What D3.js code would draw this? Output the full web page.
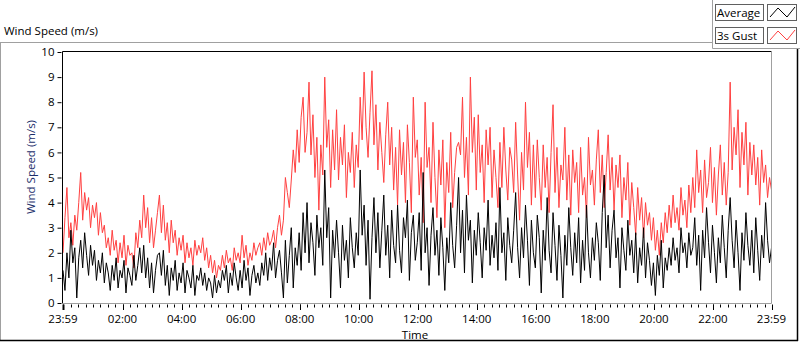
<!DOCTYPE html>
<html>
<head>
<meta charset="utf-8">
<script src="https://cdn.jsdelivr.net/npm/d3@7"></script>
<style>
  html, body { margin: 0; padding: 0; background: #fff; }
  svg { display: block; font-family: 'Open Sans', 'Noto Sans', sans-serif; }
</style>
</head>
<body>
<svg id="chart" width="800" height="342"></svg>
<script>
// Wind speed logged every 4 minutes, 23:59 -> 23:59 next day (m/s)
const gust = [
  2.0, 3.4, 4.6, 2.6, 3.2, 2.3, 3.5, 2.9, 4.0, 5.2,
  3.3, 4.4, 3.7, 4.2, 3.0, 3.9, 3.4, 4.0, 2.7, 3.6,
  2.8, 3.1, 2.2, 2.6, 1.9, 2.9, 2.1, 2.5, 1.6, 2.4,
  1.8, 2.7, 1.5, 2.3, 1.9, 2.0, 1.4, 2.8, 2.2, 3.3,
  2.6, 4.3, 3.0, 3.8, 2.4, 3.4, 2.2, 2.9, 3.6, 4.3,
  2.8, 3.9, 2.5, 3.2, 2.0, 3.3, 2.4, 2.9, 1.9, 2.6,
  2.1, 2.7, 1.6, 2.4, 1.8, 2.2, 1.5, 2.5, 1.9, 2.3,
  2.0, 2.6, 1.7, 2.2, 1.4, 1.9, 1.2, 1.7, 1.0, 1.5,
  1.3, 1.9, 1.4, 2.1, 1.6, 1.8, 1.3, 2.2, 1.7, 2.0,
  1.6, 2.7, 1.8, 2.3, 1.5, 2.0, 1.7, 2.4, 1.9, 2.2,
  2.4, 1.9, 2.6, 2.1, 2.8, 2.3, 2.5, 2.9, 2.2, 3.0,
  3.5, 2.7, 3.3, 5.0, 4.4, 3.8, 4.9, 6.1, 5.2, 6.9,
  5.6, 7.4, 8.2, 6.0, 6.8, 8.8, 5.9, 7.5, 5.0, 6.6,
  3.7, 6.3, 5.1, 9.0, 6.2, 7.3, 4.6, 6.9, 5.3, 7.7,
  4.9, 6.6, 5.5, 7.1, 4.2, 6.0, 5.2, 6.8, 4.6, 6.3,
  5.4, 8.2, 6.5, 9.2, 7.0, 5.8, 7.6, 9.25, 6.3, 7.9,
  5.3, 7.2, 6.0, 4.8, 6.7, 8.0, 5.5, 7.0, 4.5, 6.2,
  3.9, 6.9, 5.1, 6.4, 4.0, 7.1, 5.6, 3.6, 8.2, 5.8,
  6.5, 4.3, 5.8, 3.2, 8.0, 5.4, 6.2, 4.0, 7.2, 5.0,
  3.4, 6.1, 4.7, 6.5, 3.0, 5.6, 4.4, 6.8, 3.8, 5.2,
  6.2, 6.4, 5.9, 8.2, 5.0, 6.6, 4.3, 9.0, 6.0, 7.4,
  4.5, 7.5, 5.2, 6.3, 4.0, 6.9, 5.5, 7.0, 4.2, 6.1,
  5.0, 3.8, 6.4, 4.6, 7.0, 5.3, 4.1, 6.2, 5.7, 4.4,
  7.2, 5.1, 3.3, 6.0, 4.5, 8.0, 5.4, 6.8, 3.9, 6.3,
  4.2, 6.5, 5.0, 3.7, 6.3, 4.6, 5.8, 3.6, 6.0, 7.9,
  4.4, 6.2, 3.8, 5.5, 4.9, 7.0, 4.1, 5.9, 3.5, 6.1,
  4.8, 5.6, 3.6, 6.2, 4.3, 5.0, 3.4, 6.6, 4.7, 5.3,
  3.9, 5.7, 6.9, 4.4, 5.9, 3.8, 5.2, 6.7, 4.5, 5.8,
  3.7, 5.5, 4.6, 5.9, 3.4, 5.0, 4.1, 5.6, 3.1, 4.8,
  3.8, 2.7, 4.6, 3.3, 4.2, 2.6, 4.0, 3.1, 3.6, 2.5,
  3.4, 2.1, 2.9, 1.9, 3.2, 2.4, 3.6, 2.8, 3.9, 3.0,
  4.3, 3.2, 3.8, 2.9, 4.6, 3.5, 4.1, 3.0, 4.7, 3.6,
  5.0, 3.8, 6.1, 4.4, 5.3, 3.6, 5.7, 4.2, 4.8, 6.2,
  4.0, 5.4, 3.5, 5.1, 6.3, 4.3, 5.6, 3.9, 5.2, 8.8,
  5.3, 7.0, 5.9, 7.7, 4.6, 6.8, 5.5, 7.2, 4.3, 6.4,
  5.1, 6.3, 4.7, 5.8, 3.9, 6.1, 4.8, 5.5, 4.2, 5.0, 4.5
];

const average = [
  1.3, 0.5, 2.0, 1.0, 2.9, 1.6, 2.2, 0.2, 1.8, 2.5,
  1.4, 2.8, 1.9, 1.1, 2.3, 1.5, 2.1, 0.9, 1.7, 1.2,
  2.0, 0.8, 1.6, 1.2, 0.5, 1.5, 0.9, 1.8, 0.6, 1.3,
  1.0, 1.7, 0.4, 1.4, 1.1, 0.7, 1.9, 0.9, 1.5, 2.2,
  1.2, 2.3, 1.0, 1.8, 0.6, 1.6, 0.4, 1.3, 1.9, 2.0,
  1.1, 2.1, 0.7, 1.5, 0.3, 1.4, 0.9, 1.7, 0.5, 1.2,
  0.8, 1.6, 0.4, 1.3, 1.0, 0.6, 1.5, 0.3, 1.1, 0.9,
  1.4, 0.7, 1.2, 0.5, 1.0, 0.8, 0.2, 1.1, 0.4, 0.9,
  0.6, 1.3, 0.9, 1.5, 0.4, 1.2, 0.7, 1.6, 1.0, 0.5,
  1.3, 0.6, 1.7, 0.9, 1.4, 0.3, 1.1, 1.5, 0.8, 1.2,
  0.7, 1.6, 1.1, 2.0, 0.9, 1.8, 1.3, 2.4, 1.0, 1.7,
  2.1, 1.2, 0.2, 2.5, 0.8, 1.9, 3.0, 0.6, 2.2, 1.5,
  2.8, 1.3, 3.6, 2.0, 4.0, 1.6, 3.2, 2.4, 1.1, 3.5,
  2.2, 3.0, 1.5, 5.3, 2.6, 3.8, 0.2, 2.9, 1.8, 3.3,
  2.0, 0.6, 3.1, 1.7, 2.5, 1.0, 3.4, 2.2, 1.4, 2.8,
  1.9, 5.3, 2.7, 3.9, 1.5, 3.3, 0.15, 2.6, 4.2, 2.0,
  3.6, 1.4, 2.9, 4.3, 1.9, 3.1, 1.0, 3.7, 2.3, 1.6,
  3.9, 2.1, 1.2, 3.4, 2.6, 4.1, 0.9, 2.8, 3.5, 1.7,
  2.4, 3.6, 1.3, 5.2, 2.0, 3.0, 0.7, 2.7, 3.8, 1.9,
  2.9, 1.1, 3.4, 2.2, 0.5, 2.6, 1.6, 4.0, 2.3, 1.4,
  3.1, 5.0, 2.0, 3.7, 1.2, 4.3, 2.5, 3.3, 0.8, 2.9,
  1.9, 3.6, 2.4, 1.0, 3.0, 2.1, 4.1, 1.5, 2.7, 1.8,
  3.2, 1.3, 4.6, 2.0, 2.8, 0.9, 3.4, 2.3, 1.6, 2.9,
  4.4, 2.2, 1.0, 3.0, 1.8, 3.9, 2.5, 0.7, 3.3, 2.0,
  1.4, 3.5, 2.6, 0.4, 2.9, 1.7, 4.2, 2.1, 1.2, 3.6,
  2.3, 0.9, 3.1, 1.9, 0.2, 2.7, 1.5, 3.8, 2.2, 1.1,
  2.8, 1.6, 3.4, 0.8, 2.5, 1.3, 3.9, 2.0, 1.0, 2.6,
  1.7, 3.2, 2.4, 0.9, 3.6, 5.1, 2.2, 3.5, 1.4, 2.9,
  3.7, 1.8, 2.6, 0.6, 3.0, 2.1, 1.3, 3.3, 1.9, 2.5,
  1.2, 2.8, 0.8, 2.2, 1.5, 3.0, 1.0, 2.4, 1.7, 0.7,
  1.6, 0.3, 1.9, 1.1, 2.5, 0.6, 1.8, 1.3, 2.2, 1.5,
  2.6, 1.7, 2.2, 1.2, 3.0, 2.0, 2.4, 1.4, 2.8, 1.9,
  2.2, 3.4, 1.5, 2.7, 0.5, 2.9, 1.8, 3.8, 2.4, 1.2,
  3.1, 2.0, 0.8, 2.6, 1.6, 3.5, 2.2, 1.0, 2.9, 4.2,
  2.5, 1.4, 3.3, 2.0, 0.5, 2.8, 1.7, 3.6, 2.3, 1.5,
  2.9, 1.2, 3.4, 2.1, 0.9, 2.7, 1.8, 4.0, 2.5, 1.6, 2.2
];

const startTime = new Date(2000, 0, 1, 23, 59);
const endTime = new Date(2000, 0, 2, 23, 59);
const sampleMinutes = 4;
const yTicks = [0, 1, 2, 3, 4, 5, 6, 7, 8, 9, 10];
const legendItems = [
  { name: 'Average', color: '#000000' },
  { name: '3s Gust', color: '#ff4040' }
];

const svg = d3.select('#chart');
const font = "'Open Sans', 'Noto Sans', sans-serif";
const fontSize = '11.5px';

// Plot box
const plot = { left: 62.5, top: 51.5, right: 771.5, bottom: 303.5 };

const x = d3.scaleTime()
  .domain([startTime, endTime])
  .range([plot.left + 0.5, plot.right]);

const y = d3.scaleLinear()
  .domain([0, 10])
  .range([plot.bottom - 0.5, plot.top + 0.5]);

const timeAt = i => new Date(startTime.getTime() + i * sampleMinutes * 60000);

// Outer panel frame
svg.append('line').attr('x1', 0).attr('x2', 712.5).attr('y1', 42.5).attr('y2', 42.5)
  .attr('stroke', '#a0a0a0');
svg.append('line').attr('x1', 0.5).attr('x2', 0.5).attr('y1', 42.5).attr('y2', 341)
  .attr('stroke', '#a0a0a0');
svg.append('line').attr('x1', 797.5).attr('x2', 797.5).attr('y1', 48.5).attr('y2', 341)
  .attr('stroke', '#000').attr('stroke-width', 1.5);
svg.append('line').attr('x1', 0).attr('x2', 798).attr('y1', 340.5).attr('y2', 340.5)
  .attr('stroke', '#000').attr('stroke-width', 1.5);

// Legend frame
svg.append('line').attr('x1', 712.5).attr('x2', 712.5).attr('y1', 0).attr('y2', 48.5)
  .attr('stroke', '#a0a0a0');
svg.append('line').attr('x1', 712.5).attr('x2', 800).attr('y1', 48.5).attr('y2', 48.5)
  .attr('stroke', '#a0a0a0');

// Panel caption
svg.append('text')
  .attr('x', 4)
  .attr('y', 35)
  .style('font-size', fontSize)
  .attr('fill', '#000')
  .text('Wind Speed (m/s)');

// Data lines (clipped to plot)
svg.append('clipPath').attr('id', 'clip')
  .append('rect')
  .attr('x', plot.left).attr('y', plot.top)
  .attr('width', plot.right - plot.left).attr('height', plot.bottom - plot.top);

const line = d3.line()
  .x((d, i) => x(timeAt(i)))
  .y(d => y(d));

const lines = svg.append('g').attr('clip-path', 'url(#clip)');
lines.append('path')
  .datum(gust)
  .attr('d', line)
  .attr('fill', 'none')
  .attr('stroke', legendItems[1].color)
  .attr('stroke-width', 1);
lines.append('path')
  .datum(average)
  .attr('d', line)
  .attr('fill', 'none')
  .attr('stroke', legendItems[0].color)
  .attr('stroke-width', 1);

// Plot border: dark top/left, grey bottom/right
svg.append('path')
  .attr('d', `M${plot.left},${plot.bottom}V${plot.top}H${plot.right}`)
  .attr('fill', 'none').attr('stroke', '#000');
svg.append('path')
  .attr('d', `M${plot.left},${plot.bottom}H${plot.right}V${plot.top}`)
  .attr('fill', 'none').attr('stroke', '#a0a0a0');

// Y axis
const yAxis = svg.append('g')
  .attr('transform', `translate(${plot.left - 1},0)`)
  .call(d3.axisLeft(y).tickValues(yTicks).tickSize(4).tickPadding(3).tickFormat(d3.format('d')));
yAxis.select('.domain').remove();
yAxis.selectAll('.tick line').attr('stroke', '#000');
yAxis.selectAll('.tick text')
  .attr('fill', '#000')
  .style('font-family', font)
  .style('font-size', fontSize);

svg.append('text')
  .attr('transform', 'translate(35,167) rotate(-90)')
  .attr('text-anchor', 'middle')
  .style('font-size', fontSize)
  .attr('fill', '#1c2f6b')
  .text('Wind Speed (m/s)');

// X axis: minor ticks every 15 minutes, labels every 2 hours plus both ends
const minorTicks = d3.timeMinute.every(15).range(startTime, endTime);
const majorTicks = [startTime].concat(d3.timeHour.every(2).range(new Date(2000, 0, 2, 1), endTime)).concat([endTime]);
const fmt = d3.timeFormat('%H:%M');

const xAxisG = svg.append('g').attr('transform', `translate(0,${plot.bottom + 0.5})`);
xAxisG.selectAll('line.minor')
  .data(minorTicks)
  .enter()
  .append('line')
  .attr('class', 'minor')
  .attr('x1', d => Math.round(x(d)) + 0.5)
  .attr('x2', d => Math.round(x(d)) + 0.5)
  .attr('y1', 0.5)
  .attr('y2', 3.5)
  .attr('stroke', '#000');

xAxisG.selectAll('line.major')
  .data(majorTicks)
  .enter()
  .append('line')
  .attr('class', 'major')
  .attr('x1', d => Math.round(x(d)) + 0.5)
  .attr('x2', d => Math.round(x(d)) + 0.5)
  .attr('y1', 0.5)
  .attr('y2', 6)
  .attr('stroke', '#000')
  .attr('stroke-width', (d, i) => i === 0 ? 2 : 1);

xAxisG.selectAll('text')
  .data(majorTicks)
  .enter()
  .append('text')
  .attr('x', d => x(d))
  .attr('y', 18.5)
  .attr('text-anchor', 'middle')
  .style('font-size', fontSize)
  .attr('fill', '#000')
  .text(d => fmt(d));

svg.append('text')
  .attr('x', 415)
  .attr('y', 338.5)
  .attr('text-anchor', 'middle')
  .style('font-size', fontSize)
  .attr('fill', '#000')
  .text('Time');

// Legend
const legend = svg.selectAll('.legend')
  .data(legendItems)
  .enter()
  .append('g')
  .attr('class', 'legend')
  .attr('transform', (d, i) => `translate(0,${i * 23})`);

legend.append('rect')
  .attr('x', 715.5).attr('y', 4.5)
  .attr('width', 48).attr('height', 16)
  .attr('fill', '#fff').attr('stroke', '#606060');

legend.append('text')
  .attr('x', 717)
  .attr('y', 17)
  .style('font-size', fontSize)
  .attr('fill', '#000')
  .text(d => d.name);

legend.append('rect')
  .attr('x', 767.5).attr('y', 4.5)
  .attr('width', 29).attr('height', 16)
  .attr('fill', '#fff').attr('stroke', '#606060');

legend.append('path')
  .attr('d', 'M770,17L778,8L787,17L795,7')
  .attr('fill', 'none')
  .attr('stroke', d => d.color);
</script>
</body>
</html>
